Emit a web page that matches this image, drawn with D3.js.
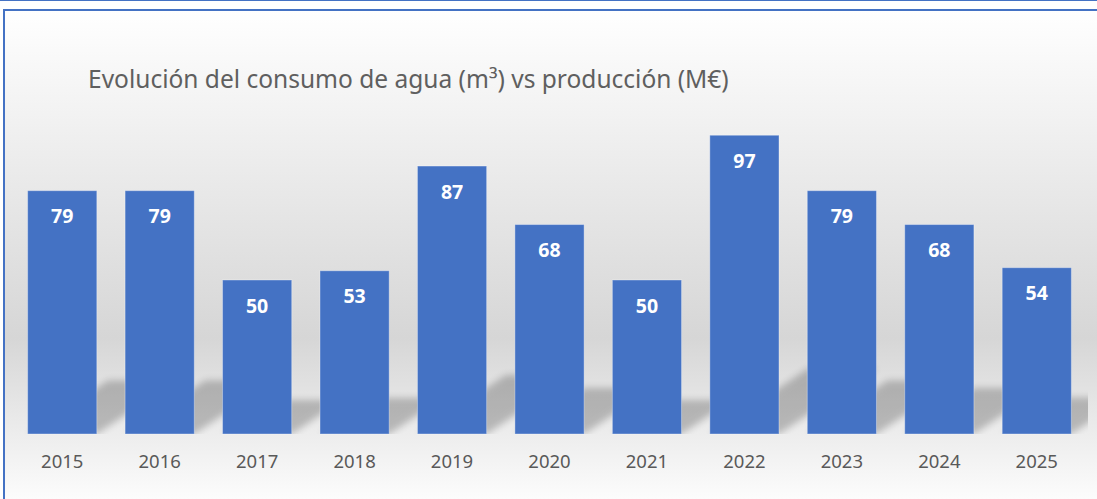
<!DOCTYPE html>
<html lang="es">
<head>
  <meta charset="UTF-8">
  <title>Consumo de agua</title>
  <style>
    html, body { margin: 0; background: #fff; overflow: hidden; }
    svg { display: block; }
  </style>
</head>
<body>
  <script src="https://d3js.org/d3.v7.min.js"></script>
  <script>
    const years = ['2015', '2016', '2017', '2018', '2019', '2020', '2021', '2022', '2023', '2024', '2025'];
    const values = [79, 79, 50, 53, 87, 68, 50, 97, 79, 68, 54];
    const title = 'Evolución del consumo de agua (m³) vs producción (M€)';

    const width = 1097;
    const height = 499;
    const blue = '#4472C4';

    const svg = d3.select('body')
      .append('svg')
      .attr('width', width)
      .attr('height', height);

    const defs = svg.append('defs');

    // chart background gradient
    const bg = defs.append('linearGradient')
      .attr('id', 'bg')
      .attr('gradientUnits', 'userSpaceOnUse')
      .attr('x1', 0).attr('y1', 10)
      .attr('x2', 0).attr('y2', 499);
    bg.append('stop').attr('offset', 0).attr('stop-color', '#ffffff');
    bg.append('stop').attr('offset', 0.67).attr('stop-color', '#d6d6d6');
    bg.append('stop').attr('offset', 1).attr('stop-color', '#fcfcfc');

    defs.append('filter')
      .attr('id', 'blur')
      .attr('x', '-10%').attr('y', '-50%')
      .attr('width', '120%').attr('height', '200%')
      .append('feGaussianBlur')
      .attr('stdDeviation', 3.5);

    const x = d3.scaleBand()
      .domain(years)
      .range([13.5, 1085.5])
      .paddingInner(0.29)
      .paddingOuter(0.145);

    const y = d3.scaleLinear()
      .domain([0, 100])
      .range([434, 126]);

    defs.append('clipPath')
      .attr('id', 'plotClip')
      .append('rect')
      .attr('x', 13.5)
      .attr('y', 100)
      .attr('width', 1088 - 13.5)
      .attr('height', y(0) - 100);

    // outer lines
    svg.append('line')
      .attr('x1', 0).attr('x2', width)
      .attr('y1', 0.5).attr('y2', 0.5)
      .attr('stroke', blue)
      .attr('stroke-width', 1);

    svg.append('rect')
      .attr('x', 4)
      .attr('y', 10)
      .attr('width', 1300)
      .attr('height', 700)
      .attr('fill', 'url(#bg)')
      .attr('stroke', blue)
      .attr('stroke-width', 2);

    // perspective shadows
    const shadowK = 0.22;
    const skew = 1.5;
    const shadows = svg.append('g')
      .attr('clip-path', 'url(#plotClip)')
      .append('g')
      .attr('filter', 'url(#blur)')
      .attr('opacity', 0.22);

    shadows.selectAll('path')
      .data(years)
      .join('path')
      .attr('fill', '#000')
      .attr('d', (d, i) => {
        const x0 = x(d);
        const x1 = x0 + x.bandwidth();
        const b = y(0);
        const h = (y(0) - y(values[i])) * shadowK;
        return `M${x0},${b}L${x1},${b}L${x1 + h * skew},${b - h}L${x0 + h * skew},${b - h}Z`;
      });

    // bars
    svg.append('g')
      .selectAll('rect')
      .data(years)
      .join('rect')
      .attr('x', d => x(d))
      .attr('y', (d, i) => y(values[i]))
      .attr('width', x.bandwidth())
      .attr('height', (d, i) => y(0) - y(values[i]))
      .attr('fill', blue)
      .attr('stroke', 'rgba(255,255,255,0.35)')
      .attr('stroke-width', 1);

    // value labels
    svg.append('g')
      .selectAll('text')
      .data(years)
      .join('text')
      .attr('x', d => x(d) + x.bandwidth() / 2)
      .attr('y', (d, i) => y(values[i]) + 32.5)
      .attr('text-anchor', 'middle')
      .attr('font-family', '"Noto Sans", sans-serif')
      .attr('font-weight', 'bold')
      .attr('font-size', 19.5)
      .attr('fill', '#fff')
      .text((d, i) => values[i]);

    // x axis labels
    const xAxis = svg.append('g')
      .attr('transform', `translate(0,${y(0)})`)
      .call(d3.axisBottom(x).tickSize(0).tickPadding(0));
    xAxis.select('.domain').remove();
    xAxis.selectAll('text')
      .attr('dy', null)
      .attr('y', 34)
      .attr('font-family', '"Noto Sans", sans-serif')
      .attr('font-size', 18.5)
      .attr('fill', '#595959');

    // title
    const t = svg.append('text')
      .attr('x', 88)
      .attr('y', 88)
      .attr('font-family', '"Noto Sans", sans-serif')
      .attr('font-size', 26)
      .attr('fill', '#5f5f5f')
      .text(title);
    const tw = t.node().getComputedTextLength();
    t.attr('font-size', 26 * 641 / tw);
  </script>
</body>
</html>
